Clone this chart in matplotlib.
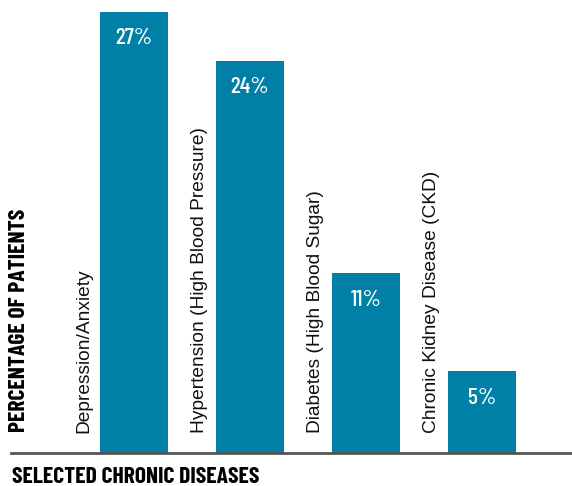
import matplotlib
matplotlib.use("Agg")
import matplotlib.pyplot as plt

categories = ["Depression/Anxiety", "Hypertension (High Blood Pressure)",
              "Diabetes (High Blood Sugar)", "Chronic Kidney Disease (CKD)"]
values = [27, 24, 11, 5]
value_labels = ["27%", "24%", "11%", "5%"]

W, H = 572, 486
fig = plt.figure(figsize=(W / 100, H / 100), dpi=100)
ax = fig.add_axes([11 / W, 33 / H, 561 / W, 453 / H])

bar_color = "#0080a6"
x = range(len(values))
ax.bar(x, values, width=0.586, color=bar_color)
ax.set_xlim(-1.06, 3.776)
ax.set_ylim(0, 27.74)

cond = ["Barlow Condensed", "DejaVu Sans"]
for i, v in enumerate(values):
    ax.annotate(value_labels[i], (i, v), xytext=(0, -19), textcoords="offset points",
                ha="center", va="center", color="white", fontsize=17,
                family=cond, fontweight="medium")
    ax.text(i - 0.36, 1.2, categories[i], rotation=90, ha="right", va="bottom",
            fontsize=13.8, color="#111111", family=["Liberation Sans", "DejaVu Sans"])

for s in ["top", "right", "left"]:
    ax.spines[s].set_visible(False)
ax.spines["bottom"].set_color("#555555")
ax.spines["bottom"].set_linewidth(2)
ax.set_xticks([])
ax.set_yticks([])

fig.text(19 / W, 1 - 432 / H, "PERCENTAGE OF PATIENTS", rotation=90, ha="center", va="bottom",
         fontsize=17, fontweight="bold", family=cond)
fig.text(12 / W, 1 - 477 / H, "SELECTED CHRONIC DISEASES", ha="left", va="center",
         fontsize=17, fontweight="bold", family=cond)

fig.savefig("out.png", dpi=100)
